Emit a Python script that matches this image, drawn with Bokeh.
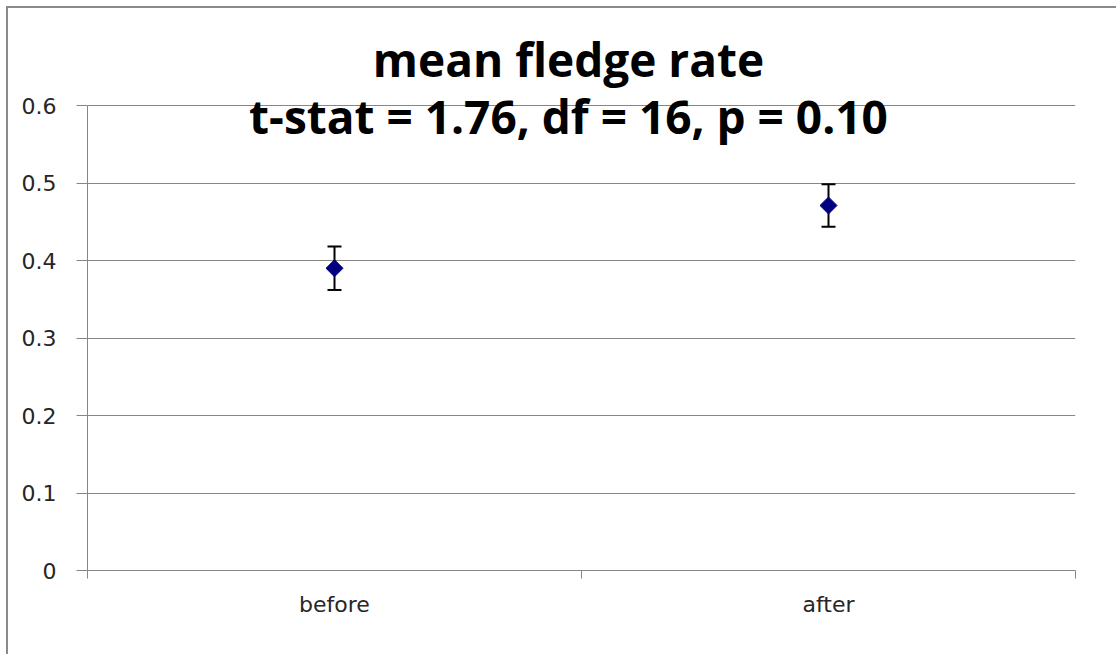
from bokeh.plotting import figure
from bokeh.models import Range1d, FixedTicker, Whisker, ColumnDataSource, Label
from bokeh.embed import file_html
from bokeh.resources import INLINE
import numpy as np

categories = ["before", "after"]
means = [0.390, 0.471]
errors = [0.028, 0.0275]
y_ticks = [0, 0.1, 0.2, 0.3, 0.4, 0.5, 0.6]
y_tick_labels = ["0", "0.1", "0.2", "0.3", "0.4", "0.5", "0.6"]
title_line1 = "mean fledge rate"
title_line2 = "t-stat = 1.76, df = 16, p = 0.10"

xs = [i + 0.5 for i in range(len(categories))]
bounds = list(range(len(categories) + 1))

src = ColumnDataSource(dict(
    x=xs, y=means,
    upper=[m + e for m, e in zip(means, errors)],
    lower=[m - e for m, e in zip(means, errors)],
))

GRID = "#868686"
TXT = "#262626"

# axis spans 0..0.6; the frame extends above so the two title lines are drawn inside it
y_top = 0.7123

p = figure(width=1110, height=648, output_backend="svg", toolbar_location=None,
           x_range=Range1d(0, len(categories)), y_range=Range1d(0, y_top),
           min_border_left=79, min_border_right=43, min_border_top=10, min_border_bottom=86)
p.outline_line_color = None
p.xgrid.grid_line_color = None
p.ygrid.grid_line_color = GRID
p.ygrid.grid_line_width = 1
p.ygrid.ticker = FixedTicker(ticks=y_ticks)

p.yaxis.ticker = FixedTicker(ticks=y_ticks)
p.yaxis.bounds = (y_ticks[0], y_ticks[-1])
p.yaxis.major_label_overrides = {t: l for t, l in zip(y_ticks, y_tick_labels)}
p.yaxis.axis_line_color = GRID
p.yaxis.major_tick_line_color = GRID
p.yaxis.major_tick_out = 11
p.yaxis.major_tick_in = 0
p.yaxis.minor_tick_line_color = None
p.yaxis.major_label_text_font = "DejaVu Sans"
p.yaxis.major_label_text_font_size = "22px"
p.yaxis.major_label_text_color = TXT
p.yaxis.major_label_standoff = 20

p.xaxis.ticker = FixedTicker(ticks=xs, minor_ticks=bounds)
p.xaxis.major_label_overrides = {x: c for x, c in zip(xs, categories)}
p.xaxis.axis_line_color = GRID
p.xaxis.major_tick_line_color = None
p.xaxis.major_tick_out = 0
p.xaxis.major_tick_in = 0
p.xaxis.minor_tick_line_color = GRID
p.xaxis.minor_tick_out = 8
p.xaxis.minor_tick_in = 0
p.xaxis.major_label_text_font = "DejaVu Sans"
p.xaxis.major_label_text_font_size = "22px"
p.xaxis.major_label_text_color = TXT
p.xaxis.major_label_standoff = 13

w = Whisker(source=src, base="x", upper="upper", lower="lower",
            line_color="black", line_width=2)
w.upper_head.size = 14
w.lower_head.size = 14
w.upper_head.line_width = 2
w.lower_head.line_width = 2
w.upper_head.line_color = "black"
w.lower_head.line_color = "black"
p.add_layout(w)

p.scatter("x", "y", source=src, marker="square", angle=np.pi / 4, size=12,
          fill_color="#00007f", line_color="#00007f")

cx = len(categories) / 2
for txt, yv in [(title_line1, 0.660), (title_line2, 0.587)]:
    p.add_layout(Label(x=cx, y=yv, x_offset=-13, text=txt, text_align="center",
                       text_baseline="alphabetic", text_font="Open Sans", text_font_style="bold",
                       text_font_size="46px", text_color="black"))

p.styles = {"border-left": "2px solid #8a8a8a", "border-top": "2px solid #8a8a8a",
            "border-right": "none", "border-bottom": "none",
            "margin-left": "6px", "margin-top": "6px"}

open("out.html", "w").write(file_html(p, INLINE))
